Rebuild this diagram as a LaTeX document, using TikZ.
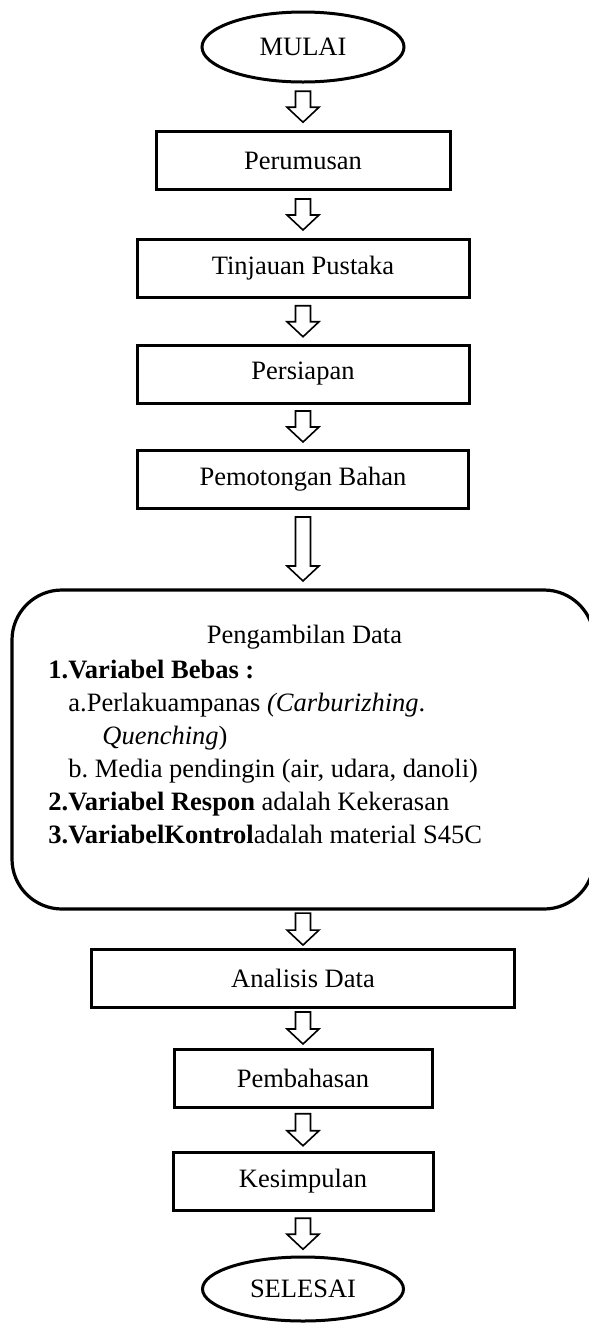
\documentclass[tikz,border=0pt]{standalone}
\usepackage{fontspec}
\setmainfont{Liberation Serif}
\usetikzlibrary{shapes.geometric,calc}

\begin{document}
\begin{tikzpicture}[x=0.5pt, y=-0.5pt,
    font=\fontsize{13.25pt}{16.5pt}\selectfont\frenchspacing,
    kotak/.style={draw, line width=1.5pt, minimum height=29pt, inner sep=0pt},
    lonjong/.style={draw, ellipse, line width=1.5pt, inner sep=0pt},
    panah/.style={draw, fill=white, line width=0.8pt, line join=miter}]

      \useasboundingbox (0, 0) rectangle (589, 1324);

      \node[lonjong, minimum width=101pt, minimum height=35pt] (mulai) at (303, 47) {MULAI};
      \node[kotak, minimum width=147pt] (rumus) at (303, 160.5) {Perumusan};
      \node[kotak, minimum width=166pt] (tinjau) at (303, 268.5) {Tinjauan Pustaka};
      \node[kotak, minimum width=166pt] (siap) at (303, 374) {Persiapan};
      \node[kotak, minimum width=165.5pt] (potong) at (303, 479) {Pemotongan Bahan};

      \node[draw, line width=1.6pt, rounded corners=25pt, minimum width=291pt,
        minimum height=159.5pt] (data) at (303, 749.5) {};
      \node[anchor=base] (judul) at (304.5, 643) {Pengambilan Data};
      \node[anchor=base west, align=left, inner sep=0pt] (isi) at (48, 843) {%
        \textbf{1.Variabel Bebas :}\\
        \hspace*{10pt}a.Perlakuampanas \textit{(Carburizhing}.\\
        \hspace*{27pt}\textit{Quenching})\\
        \hspace*{10pt}b. Media pendingin (air, udara, danoli)\\
        \textbf{2.Variabel Respon} adalah Kekerasan\\
        \textbf{3.VariabelKontrol}adalah material S45C};

      \node[kotak, minimum width=211.5pt] (analisis) at (303, 978) {Analisis Data};
      \node[kotak, minimum width=129pt] (bahas) at (303, 1078) {Pembahasan};
      \node[kotak, minimum width=130pt] (simpul) at (303, 1181.5) {Kesimpulan};
      \node[lonjong, minimum width=100.5pt, minimum height=32pt] (selesai) at (303, 1289) {SELESAI};

      \foreach \a/\b/\l in {mulai/rumus/15.5, rumus/tinjau/15.5, tinjau/siap/15.5,
        siap/potong/15.5, potong/data/32, data/analisis/16, analisis/bahas/16,
        bahas/simpul/16, simpul/selesai/15.5}
        \draw[panah] let \p1 = (\a.south), \p2 = (\b.north),
          \n1 = {(\y1+\y2)/2 + \l*0.5pt}, \n2 = {(\y1+\y2)/2 - \l*0.5pt} in
          (\x1-3.75pt, \n1) -- (\x1+3.75pt, \n1) -- (\x1+3.75pt, \n2+7.5pt)
          -- (\x1+8pt, \n2+7.5pt) -- (\x1, \n2) -- (\x1-8pt, \n2+7.5pt)
          -- (\x1-3.75pt, \n2+7.5pt) -- cycle;

    \end{tikzpicture}
\end{document}
